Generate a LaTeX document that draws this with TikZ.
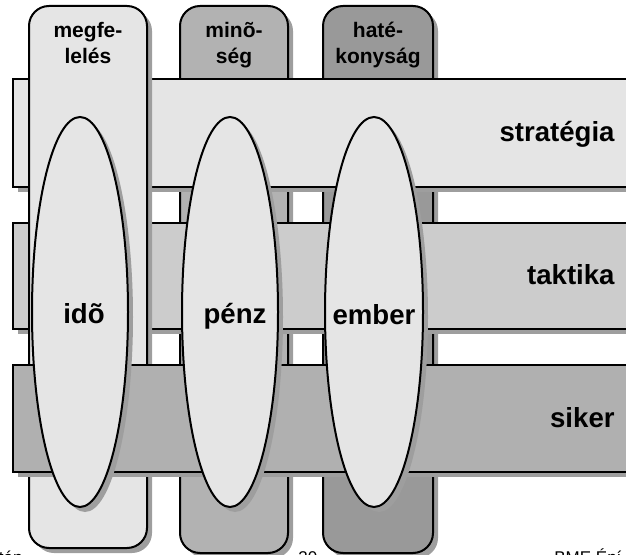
\documentclass[tikz,border=0pt]{standalone}
\usepackage{fontspec}
\setmainfont{Liberation Sans}
\usetikzlibrary{shadows}

\begin{document}
\begin{tikzpicture}[x=0.5pt,y=-0.5pt,
    shadowed/.style={draw=black,line width=1pt,
      drop shadow={shadow xshift=2.5pt,shadow yshift=-2.5pt,fill=black!38,opacity=1}},
    column/.style={shadowed,rounded corners=10pt},
    biglabel/.style={font=\bfseries\fontsize{13.8}{16}\selectfont,inner sep=0pt},
    collabel/.style={font=\bfseries\fontsize{10.5}{13}\selectfont,inner sep=0pt,anchor=base},
    footer/.style={font=\fontsize{8.5}{10}\selectfont,inner sep=0pt}]
                \useasboundingbox (0,0) rectangle (626,555);
                \clip (0,0) rectangle (626,555);
                % columns behind the bars
                \filldraw[column,fill=black!30] (180,6) rectangle (288,553);
                \filldraw[column,fill=black!40] (323,6) rectangle (433,553);
                % bars
                \filldraw[shadowed,fill=black!10] (13,79) rectangle (660,187);
                \filldraw[shadowed,fill=black!20] (13,223) rectangle (660,329);
                \filldraw[column,fill=black!10] (29,6) rectangle (147,548);
                \filldraw[shadowed,fill=black!31] (13,365) rectangle (660,472);
                % ellipses
                \filldraw[shadowed,fill=black!10] (80,312) ellipse (48 and 195);
                \filldraw[shadowed,fill=black!10] (230,312) ellipse (48 and 195);
                \filldraw[shadowed,fill=black!10] (374,312) ellipse (49 and 195);

                \node[collabel] (megfe) at (88,38) {megfe-};
                \node[collabel] (leles) at (88,64) {lelés};
                \node[collabel] (mino) at (234,38) {minõ-};
                \node[collabel] (seg) at (234,64) {ség};
                \node[collabel] (hate) at (378,38) {haté-};
                \node[collabel] (konysag) at (378,64) {konyság};

                \node[biglabel,anchor=base east] (strategia) at (615,142) {stratégia};
                \node[biglabel,anchor=base east] (taktika) at (615,285) {taktika};
                \node[biglabel,anchor=base east] (siker) at (615,427) {siker};

                \node[biglabel,anchor=base] (ido) at (84,324) {idõ};
                \node[biglabel,anchor=base] (penz) at (235,324) {pénz};
                \node[biglabel,anchor=base] (ember) at (374,325) {ember};

                \node[footer,anchor=base east] (szerzo) at (23,563) {tán};
                \node[footer,anchor=base west] (oldal) at (298,563) {30};
                \node[footer,anchor=base west] (bme) at (554,563) {BME Épí};
            \end{tikzpicture}
\end{document}
